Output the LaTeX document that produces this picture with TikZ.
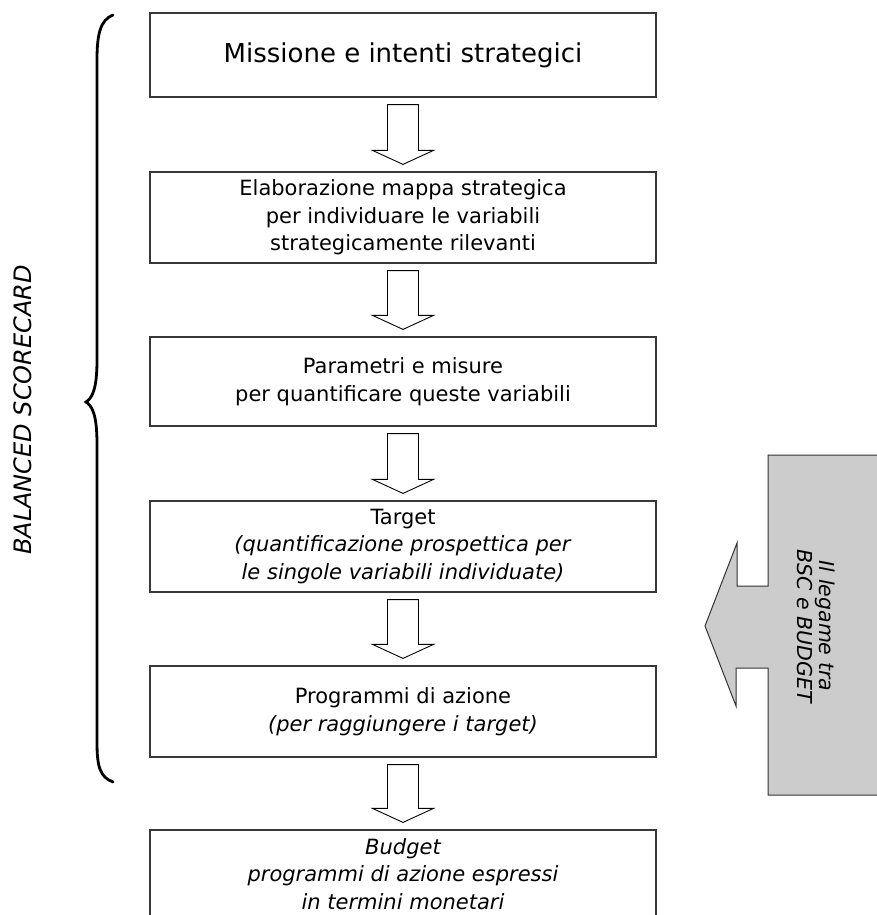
\documentclass[tikz,border=0pt]{standalone}
\usepackage{fontspec}
\setmainfont{DejaVu Sans}
\usetikzlibrary{calc}

\tikzset{
  stagebox/.style={draw=black!78, line width=1.2pt, fill=white,
    minimum width=506pt, inner sep=0pt, align=center,
    font=\fontsize{21}{27.5}\selectfont},
  flowarrow/.style={draw=black, line width=0.9pt, fill=white, line join=miter},
  bracestyle/.style={draw=black, line width=2.8pt, line cap=round},
  linkarrow/.style={draw=black!80, line width=1pt, fill=black!20},
}

% hollow block arrow between two stacked boxes
\newcommand{\stagearrow}[2]{%
  \draw[flowarrow] let \p1=(#1.south), \p2=(#2.north) in
    (\x1-15.5pt,\y1-7pt) -- (\x1+15.5pt,\y1-7pt) -- (\x1+15.5pt,\y2+21pt)
    -- (\x1+30.5pt,\y2+21pt) -- (\x1,\y2+7pt) -- (\x1-30.5pt,\y2+21pt)
    -- (\x1-15.5pt,\y2+21pt) -- cycle;}

\begin{document}
\begin{tikzpicture}[x=1pt,y=-1pt]
\useasboundingbox (0,0) rectangle (876,915);

% stages of the process
\node[stagebox, minimum height=84pt, font=\fontsize{26}{30}\selectfont] (mission) at (403,55)
  {Missione e intenti strategici};
\node[stagebox, minimum height=91pt] (map) at (403,217.5)
  {Elaborazione mappa strategica\\per individuare le variabili\\strategicamente rilevanti};
\node[stagebox, minimum height=89pt] (measures) at (403,381.5)
  {Parametri e misure\\per quantificare queste variabili};
\node[stagebox, minimum height=91pt] (target) at (403,546.5)
  {Target\\\textit{(quantificazione prospettica per}\\\textit{le singole variabili individuate)}};
\node[stagebox, minimum height=91pt] (actions) at (403,711.5)
  {Programmi di azione\\\textit{(per raggiungere i target)}};
\node[stagebox, minimum height=88pt, font=\fontsize{21}{27.5}\selectfont\itshape] (budget) at (403,874)
  {Budget\\programmi di azione espressi\\in termini monetari};

\stagearrow{mission}{map}
\stagearrow{map}{measures}
\stagearrow{measures}{target}
\stagearrow{target}{actions}
\stagearrow{actions}{budget}

% curly brace spanning the scorecard stages
\coordinate (bracetop) at (113,15);
\coordinate (bracetip) at (86,402);
\coordinate (bracebot) at (113,782);
\draw[bracestyle] (bracetop) .. controls (100,20) and (97,35) .. (97,60)
  -- (97,360) .. controls (97,390) and (92,398) .. (bracetip)
  .. controls (92,406) and (97,414) .. (97,444)
  -- (97,742) .. controls (97,767) and (100,777) .. (bracebot);
\node[rotate=90, font=\fontsize{24}{28}\selectfont\itshape] (bsc) at (23,410)
  {BALANCED SCORECARD};

% link between the scorecard and the budget
\draw[linkarrow] (890,455) -- (768,455) -- (768,586) -- (737,586) -- (737,543)
  -- (705,626) -- (736,706) -- (736,668) -- (768,668) -- (768,795) -- (890,795);
\node[rotate=-90, align=center, inner sep=0pt,
  font=\fontsize{20.5}{22}\selectfont\itshape] (link) at (816,626)
  {Il legame tra\\BSC e BUDGET};
\end{tikzpicture}
\end{document}
